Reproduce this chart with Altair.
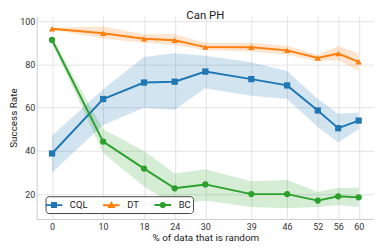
import altair as alt
import pandas as pd

xs = [0, 10, 18, 24, 30, 39, 46, 52, 56, 60]
series = ["CQL", "DT", "BC"]
colors = ["#1f77b4", "#ff7f0e", "#2ca02c"]
marker_shapes = ["square", "triangle-up", "circle"]

cql_mean = [38.8, 64.0, 71.6, 72.0, 76.7, 73.2, 70.3, 58.7, 50.5, 54.0]
cql_lo = [30.0, 52.0, 60.0, 59.0, 69.0, 65.5, 64.0, 51.0, 44.0, 50.0]
cql_hi = [47.0, 68.5, 83.4, 85.2, 84.0, 81.0, 77.0, 64.0, 57.2, 57.7]

dt_mean = [96.5, 94.4, 91.9, 91.2, 88.0, 87.9, 86.5, 83.0, 85.0, 81.2]
dt_lo = [96.0, 92.0, 90.0, 89.0, 86.5, 86.0, 84.5, 81.5, 82.0, 77.0]
dt_hi = [97.0, 97.5, 94.0, 94.0, 90.0, 90.0, 88.5, 84.5, 88.5, 85.0]

bc_mean = [91.3, 44.3, 31.8, 22.7, 24.5, 20.0, 20.0, 17.0, 19.0, 18.5]
bc_lo = [90.0, 39.0, 23.5, 15.0, 17.0, 14.0, 13.5, 14.0, 15.0, 14.0]
bc_hi = [92.5, 50.0, 40.0, 29.5, 31.5, 26.0, 26.5, 21.0, 23.0, 23.0]

yticks = [20, 40, 60, 80, 100]

rows = []
for name, m, lo, hi in [("CQL", cql_mean, cql_lo, cql_hi),
                        ("DT", dt_mean, dt_lo, dt_hi),
                        ("BC", bc_mean, bc_lo, bc_hi)]:
    for i, x in enumerate(xs):
        rows.append({"series": name, "x": x, "y": m[i], "lo": lo[i], "hi": hi[i]})
df = pd.DataFrame(rows)

FONT = "Roboto"
color_scale = alt.Scale(domain=series, range=colors)
YDOM = [8.5, 102.3]

x_enc = alt.X("x:Q", scale=alt.Scale(domain=[-3, 63], nice=False, zero=False),
              axis=alt.Axis(values=xs, title="% of data that is random", grid=True,
                            ticks=False, labelPadding=4, titlePadding=1))
y_enc = alt.Y("y:Q", scale=alt.Scale(domain=YDOM, nice=False, zero=False),
              axis=alt.Axis(values=yticks, title="Success Rate", grid=True,
                            ticks=False, labelPadding=2, titlePadding=1))

base = alt.Chart(df)

leg_paths = [
    "M-1.4,0H1.4M-0.34,-0.34H0.34V0.34H-0.34Z",
    "M-1.4,0H1.4M0,-0.4L0.38,0.28H-0.38Z",
    "M-1.4,0H1.4M-0.36,0A0.36,0.36 0 1,0 0.36,0A0.36,0.36 0 1,0 -0.36,0Z",
]

leg = alt.Legend(title=None, orient="none", legendX=9, legendY=182,
                 direction="horizontal", fillColor="white",
                 strokeColor="#444444", cornerRadius=3, padding=1.5,
                 symbolSize=144, symbolStrokeWidth=2, symbolOpacity=1,
                 labelOffset=9, columnPadding=11,
                 labelFont=FONT, labelFontSize=9.5, labelColor="#222222")

# drawn first and tiny, so it hides under the real markers; it only feeds the legend
legend_layer = base.mark_point(filled=True, size=4, strokeWidth=0.5).encode(
    x=x_enc, y=y_enc,
    fill=alt.Fill("series:N", scale=color_scale, legend=leg),
    stroke=alt.Stroke("series:N", scale=color_scale, legend=leg),
    shape=alt.Shape("series:N", scale=alt.Scale(domain=series, range=leg_paths), legend=leg),
)

band = base.mark_area(opacity=0.2).encode(
    x=x_enc,
    y=alt.Y("lo:Q", scale=alt.Scale(domain=YDOM, nice=False, zero=False)),
    y2="hi:Q",
    color=alt.Color("series:N", scale=color_scale, legend=None),
    detail="series:N",
)

line = base.mark_line(strokeWidth=2).encode(
    x=x_enc, y=y_enc,
    color=alt.Color("series:N", scale=color_scale, legend=None),
    order="x:Q",
)

pt_layers = []
for name, shp in zip(series, marker_shapes):
    pt_layers.append(
        base.transform_filter(alt.datum.series == name)
        .mark_point(filled=True, size=40, opacity=1, shape=shp)
        .encode(x=x_enc, y=y_enc,
                color=alt.Color("series:N", scale=color_scale, legend=None))
    )

chart = alt.layer(legend_layer, band, line, *pt_layers).properties(
    width=341, height=205,
    title=alt.TitleParams("Can PH", fontSize=11.5, font=FONT, fontWeight="normal",
                          color="#222222", offset=-5),
    padding={"left": 0, "top": 0, "right": 0, "bottom": 0},
).configure_view(stroke=None).configure_axis(
    domainColor="#cccccc", gridColor="#e3e3e3", labelFont=FONT, titleFont=FONT,
    labelFontSize=9, titleFontSize=10, titleFontWeight="normal",
    labelColor="#333333", titleColor="#222222",
)

chart.save("out.html", embed_options={"renderer": "svg", "actions": False})
